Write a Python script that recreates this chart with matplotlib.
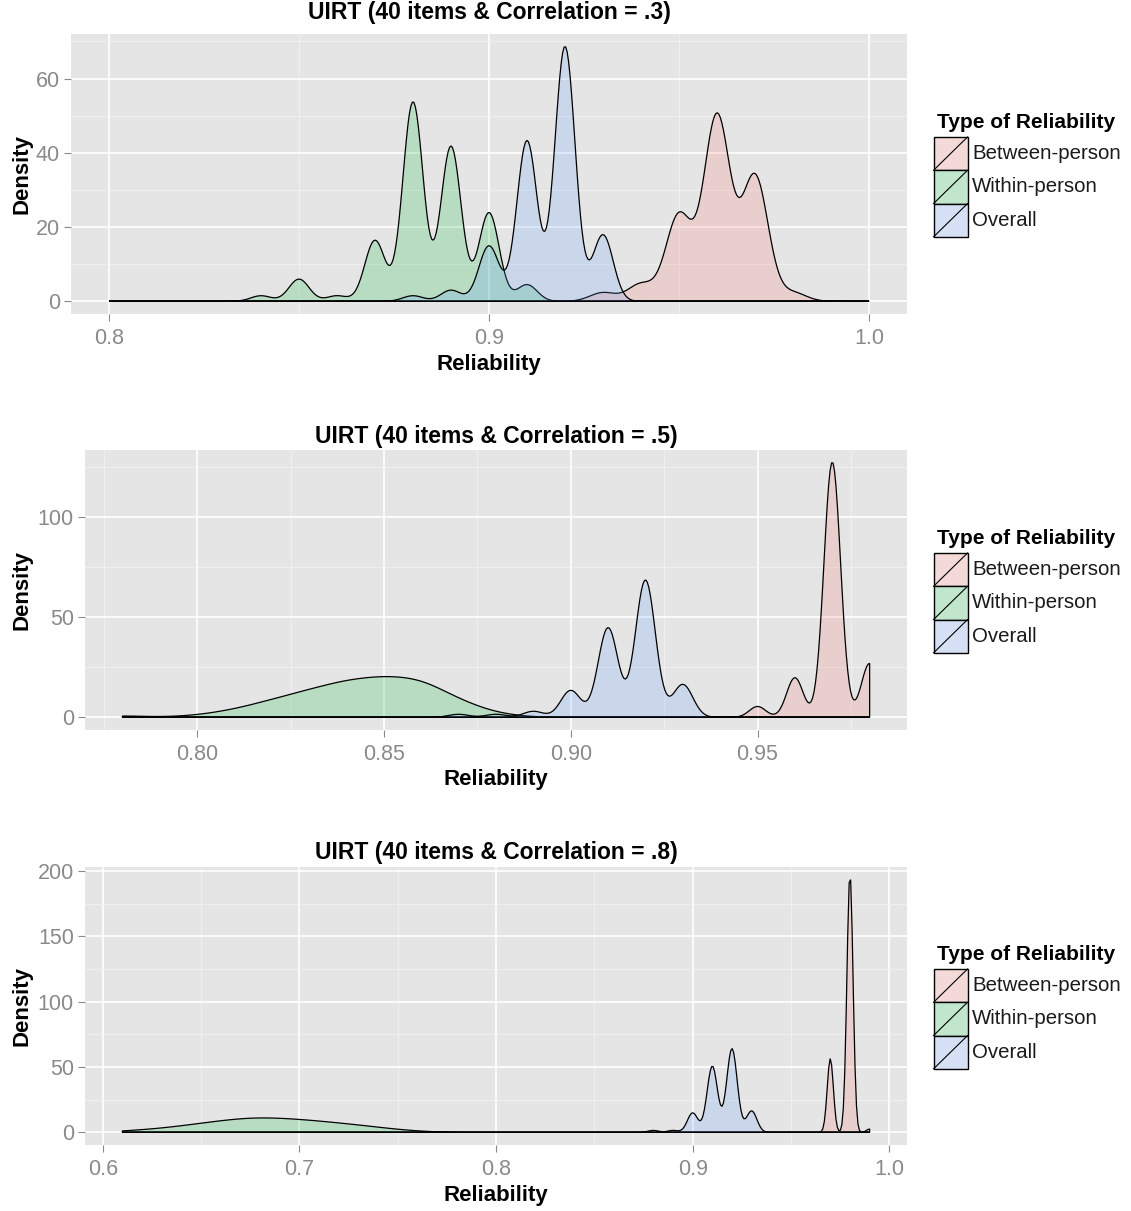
import numpy as np
import matplotlib
matplotlib.use("Agg")
import matplotlib.pyplot as plt
from matplotlib.patches import Rectangle

plt.rcParams['font.family'] = ['Liberation Sans', 'DejaVu Sans']

# ---- data: reliability values (rounded to .01) and counts out of 100 replications ----
groups = ['Between-person', 'Within-person', 'Overall']
fills = ['#F8766D', '#00BA38', '#619CFF']

# correlation = .3
p1_between_vals = [0.93, 0.94, 0.95, 0.96, 0.97, 0.98]
p1_between_n = [2, 4, 20, 43, 29, 2]
p1_within_vals = [0.84, 0.85, 0.86, 0.87, 0.88, 0.89, 0.90, 0.91]
p1_within_n = [1, 4, 1, 11, 36, 28, 16, 3]
p1_overall_vals = [0.88, 0.89, 0.90, 0.91, 0.92, 0.93]
p1_overall_n = [1, 2, 10, 29, 46, 12]

# correlation = .5
p2_between_vals = [0.95, 0.96, 0.97, 0.98]
p2_between_n = [3, 11, 71, 15]
p2_within_vals = [0.78, 0.80, 0.81, 0.82, 0.83, 0.84, 0.85, 0.86, 0.87, 0.88]
p2_within_n = [1, 1, 4, 9, 14, 19, 21, 20, 9, 2]
p2_overall_vals = [0.87, 0.88, 0.89, 0.90, 0.91, 0.92, 0.93]
p2_overall_n = [1, 1, 2, 9, 30, 46, 11]

# correlation = .8
p3_between_vals = [0.97, 0.98, 0.99]
p3_between_n = [22, 77, 1]
p3_within_vals = [0.61, 0.62, 0.63, 0.64, 0.65, 0.66, 0.67, 0.68,
                  0.69, 0.70, 0.71, 0.72, 0.73, 0.74, 0.75, 0.76]
p3_within_n = [1, 2, 3, 5, 7, 9, 11, 12, 11, 10, 9, 7, 6, 4, 2, 1]
p3_overall_vals = [0.88, 0.89, 0.90, 0.91, 0.92, 0.93]
p3_overall_n = [1, 1, 10, 34, 43, 11]

titles = ['UIRT (40 items & Correlation = .3)',
          'UIRT (40 items & Correlation = .5)',
          'UIRT (40 items & Correlation = .8)']
x_scale_limits = [(0.8, 1.0), None, None]
x_ticks = [[0.8, 0.9, 1.0], [0.80, 0.85, 0.90, 0.95], [0.6, 0.7, 0.8, 0.9, 1.0]]
x_ticklabels = [['0.8', '0.9', '1.0'], ['0.80', '0.85', '0.90', '0.95'],
                ['0.6', '0.7', '0.8', '0.9', '1.0']]
y_ticks = [[0, 20, 40, 60], [0, 50, 100], [0, 50, 100, 150, 200]]

panels = [
    [(p1_between_vals, p1_between_n), (p1_within_vals, p1_within_n), (p1_overall_vals, p1_overall_n)],
    [(p2_between_vals, p2_between_n), (p2_within_vals, p2_within_n), (p2_overall_vals, p2_overall_n)],
    [(p3_between_vals, p3_between_n), (p3_within_vals, p3_within_n), (p3_overall_vals, p3_overall_n)],
]


def bw_nrd0(x):
    hi = np.std(x, ddof=1)
    q75, q25 = np.percentile(x, [75, 25])
    lo = min(hi, (q75 - q25) / 1.34)
    if lo <= 1e-12:
        lo = hi
    return 0.9 * lo * len(x) ** (-0.2)


def density(vals, counts, lo, hi, n=512):
    x = np.repeat(np.asarray(vals, float), counts)
    h = bw_nrd0(x)
    grid = np.linspace(lo, hi, n)
    d = np.exp(-0.5 * ((grid[:, None] - x[None, :]) / h) ** 2).sum(1)
    return grid, d / (len(x) * h * np.sqrt(2 * np.pi))


W, H = 1131, 1211
fig = plt.figure(figsize=(W / 100, H / 100), dpi=100)

# panel boxes in pixels: left, top, right, bottom
boxes = [(71, 34, 907, 314), (85, 450, 907, 730), (85, 867, 907, 1145)]
title_y = [12, 436, 853]

tick_col = '#8A8A8A'
for k, (l, t, r, b) in enumerate(boxes):
    ax = fig.add_axes([l / W, 1 - b / H, (r - l) / W, (b - t) / H])
    ax.set_facecolor('#E5E5E5')
    for s in ax.spines.values():
        s.set_visible(False)

    if x_scale_limits[k] is not None:
        lo, hi = x_scale_limits[k]
    else:
        allv = np.concatenate([np.asarray(v) for v, n in panels[k]])
        lo, hi = allv.min(), allv.max()

    ymax = 0
    for g, (vals, counts) in enumerate(panels[k]):
        xs, ys = density(vals, counts, lo, hi)
        ymax = max(ymax, ys.max())
        px = np.concatenate([xs, xs[::-1]])
        py = np.concatenate([ys, np.zeros_like(ys)])
        ax.fill(px, py, facecolor=matplotlib.colors.to_rgba(fills[g], 0.2),
                edgecolor='black', linewidth=0.9, zorder=3)

    span = hi - lo
    ax.set_xticks(x_ticks[k])
    ax.set_xticklabels(x_ticklabels[k])
    ax.set_yticks(y_ticks[k])
    xt = np.asarray(x_ticks[k])
    dx = xt[1] - xt[0]
    ax.set_xticks(np.arange(xt[0] - dx / 2, hi + 0.05 * span, dx), minor=True)
    yt = np.asarray(y_ticks[k])
    dy = yt[1] - yt[0]
    ax.set_yticks(np.arange(dy / 2, 1.05 * ymax, dy), minor=True)
    ax.set_xlim(lo - 0.05 * span, hi + 0.05 * span)
    ax.set_ylim(-0.05 * ymax, 1.05 * ymax)

    ax.grid(which='major', color='white', linewidth=1.2, zorder=1)
    ax.grid(which='minor', color='#F2F2F2', linewidth=0.6, zorder=1)
    ax.set_axisbelow(True)
    ax.tick_params(which='major', length=5, width=0.8, color=tick_col,
                   labelcolor=tick_col, labelsize=15.5)
    ax.tick_params(axis='x', pad=4.8)
    ax.tick_params(axis='y', pad=3.0)
    ax.tick_params(which='minor', length=0)

    cx = (l + r) / 2
    fig.text(cx / W, 1 - title_y[k] / H, titles[k], ha='center', va='center',
             fontsize=16.5, fontweight='bold')
    fig.text(cx / W, 1 - (b + 50) / H, 'Reliability', ha='center', va='center',
             fontsize=16, fontweight='bold')
    fig.text(22 / W, 1 - ((t + b) / 2) / H, 'Density', ha='center', va='center',
             rotation=90, fontsize=16, fontweight='bold')

# legends
lax = fig.add_axes([0, 0, 1, 1])
lax.set_xlim(0, W)
lax.set_ylim(H, 0)
lax.axis('off')
kw, kh = 34, 33.3
for (l, t, r, b) in boxes:
    cy = (t + b) / 2
    ktop = cy - 37
    lax.text(937, ktop - 15, 'Type of Reliability', ha='left', va='center',
             fontsize=15, fontweight='bold')
    for g, name in enumerate(groups):
        y0 = ktop + g * kh
        lax.add_patch(Rectangle((933.5, y0), kw, kh, facecolor='#F2F2F2', edgecolor='none'))
        lax.add_patch(Rectangle((933.5, y0), kw, kh,
                                facecolor=matplotlib.colors.to_rgba(fills[g], 0.2),
                                edgecolor='black', linewidth=1.0))
        lax.plot([933.5, 933.5 + kw], [y0 + kh, y0], color='black', linewidth=0.8)
        lax.text(972, y0 + kh / 2, name, ha='left', va='center', fontsize=14.7,
                 color='#1A1A1A')

fig.savefig('out.png', dpi=100, facecolor='white')
